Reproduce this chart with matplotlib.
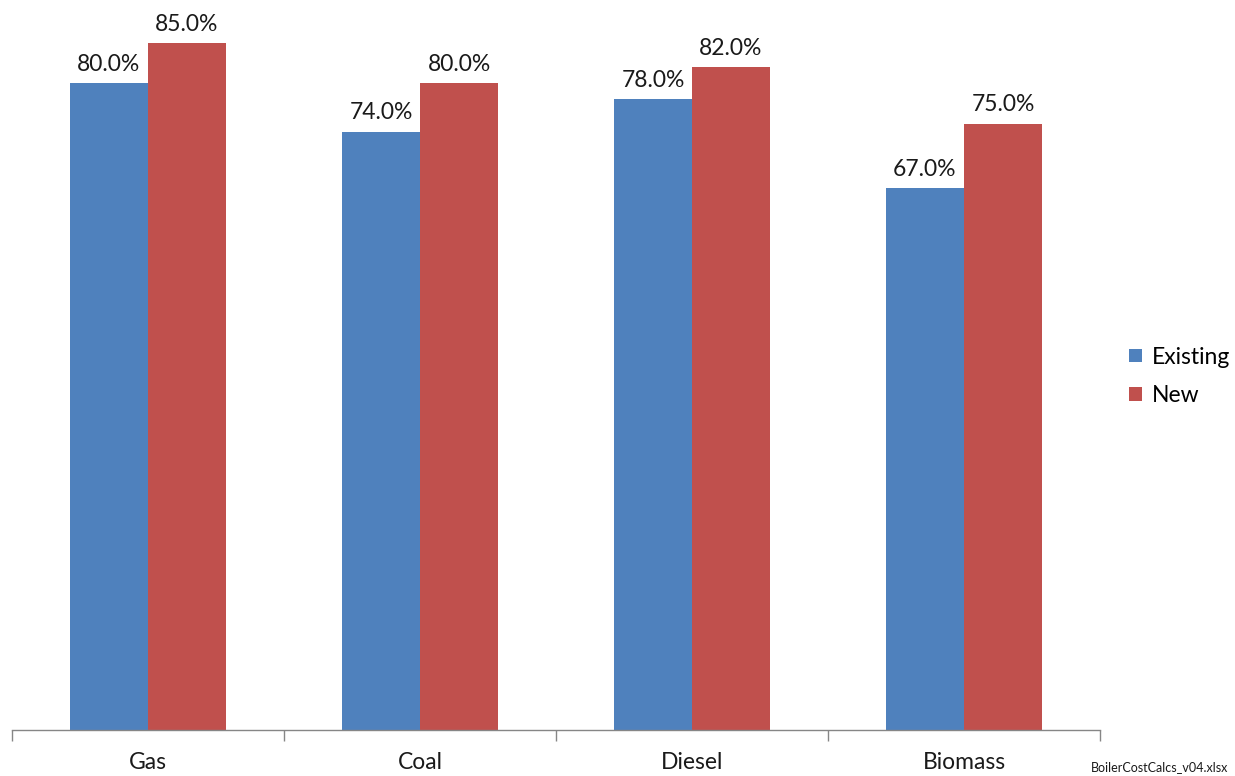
import matplotlib.pyplot as plt
import numpy as np

plt.rcParams['font.family'] = ['Lato', 'DejaVu Sans']

categories = ['Gas', 'Coal', 'Diesel', 'Biomass']
existing = [0.80, 0.74, 0.78, 0.67]
new = [0.85, 0.80, 0.82, 0.75]

BLUE = '#4F81BD'
RED = '#C0504D'
AXIS = '#868686'
WIDTH = 0.287
FS = 16.5

fig = plt.figure(figsize=(12.35, 7.76), dpi=100)
ax = fig.add_axes([12/1235, 46.5/776, 1088/1235, 727/776])

x = np.arange(len(categories))
b1 = ax.bar(x - WIDTH/2, existing, WIDTH, color=BLUE, label='Existing')
b2 = ax.bar(x + WIDTH/2, new, WIDTH, color=RED, label='New')

for bars in (b1, b2):
    for rect in bars:
        h = rect.get_height()
        ax.annotate('%.1f%%' % (h*100), (rect.get_x() + rect.get_width()/2, h),
                    xytext=(0, 6), textcoords='offset points',
                    ha='center', va='bottom', fontsize=FS, color='#1a1a1a')

ax.set_xlim(-0.5, len(categories) - 0.5)
ax.set_ylim(0, 0.9)
ax.set_yticks([])
for s in ['top', 'right', 'left']:
    ax.spines[s].set_visible(False)
ax.spines['bottom'].set_color(AXIS)
ax.spines['bottom'].set_linewidth(1.0)

ax.set_xticks(np.arange(len(categories) + 1) - 0.5)
ax.set_xticklabels([])
ax.set_xticks(x, minor=True)
ax.set_xticklabels(categories, minor=True, fontsize=FS, color='#1a1a1a')
ax.tick_params(axis='x', which='major', length=8, color=AXIS, width=1.0)
ax.tick_params(axis='x', which='minor', length=0, pad=16)

ax.legend(loc='center left', bbox_to_anchor=(1108/1088, 0.486), frameon=False,
          fontsize=FS, handlelength=0.55, handleheight=0.55, handletextpad=0.45,
          labelspacing=0.75, borderaxespad=0)

fig.text(1228/1235, 3/776, 'BoilerCostCalcs_v04.xlsx', ha='right', va='bottom',
         fontsize=9, color='#1a1a1a')

fig.savefig('out.png', dpi=100)
